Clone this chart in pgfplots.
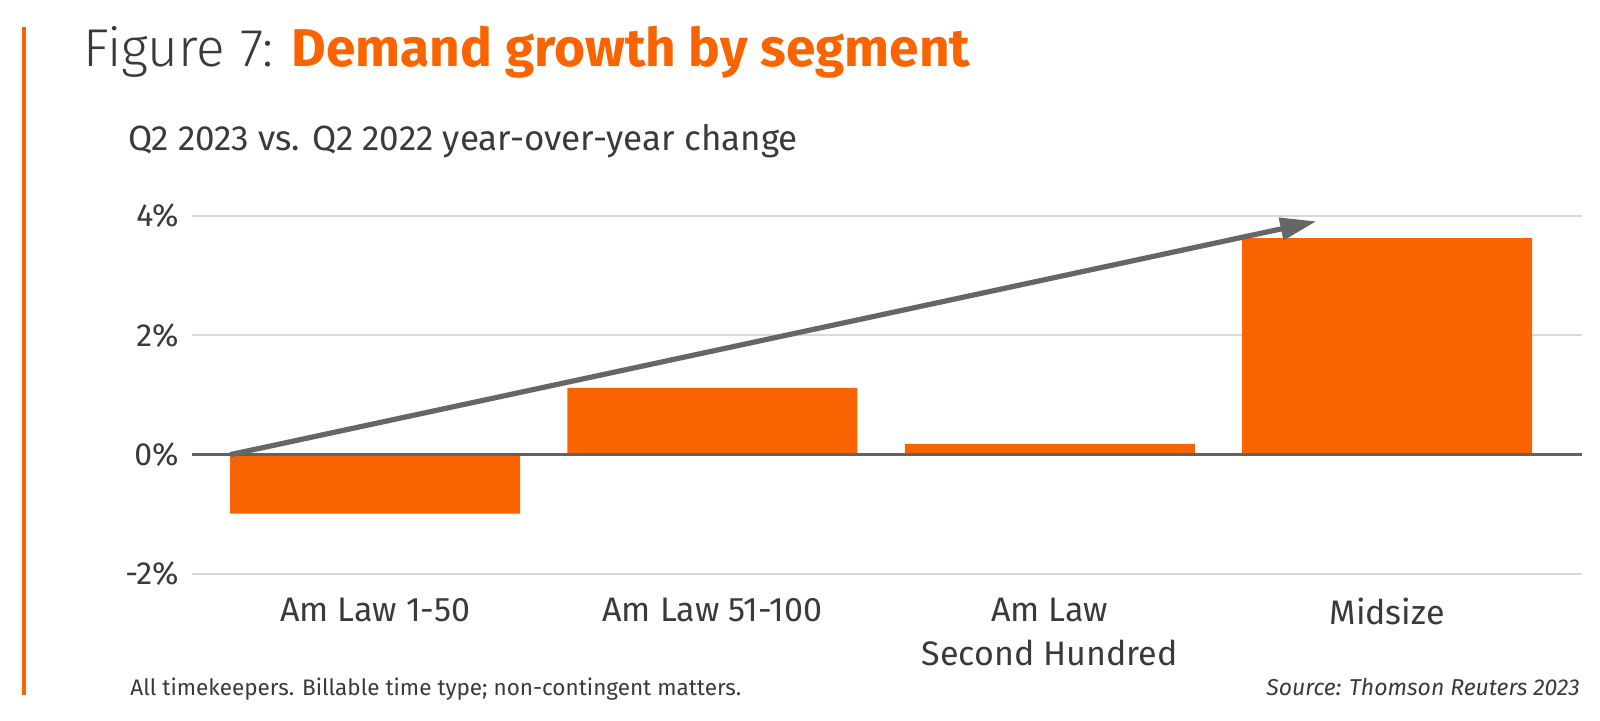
\documentclass[border=0pt]{standalone}
\usepackage{pgfplots}
\pgfplotsset{compat=1.18}
\usepackage{fontspec}
\setmainfont{Fira Sans}
\newfontfamily\lightfont{Fira Sans Light}
\usetikzlibrary{arrows.meta}
\definecolor{trorange}{HTML}{F96400}
\definecolor{txt}{HTML}{3A3A3A}
\definecolor{arr}{HTML}{666666}
\definecolor{zeroc}{HTML}{5F6266}
\definecolor{gridc}{HTML}{D9D9D9}
\begin{document}
\begin{tikzpicture}
\path[use as bounding box] (0pt,0pt) rectangle (800pt,360pt);
\draw[trorange, line width=1.75pt] (12pt,12.5pt) -- (12pt,346.5pt);
\node[anchor=base west, inner sep=0pt, font=\fontsize{26.6}{32}\selectfont, text=txt] at (41.5pt,327pt) {{\lightfont Figure 7:} \textcolor{trorange}{\bfseries Demand growth by segment}};
\node[anchor=base west, inner sep=0pt, font=\fontsize{17.5}{21}\selectfont, text=txt] at (64pt,285pt) {Q2 2023 vs. Q2 2022 year-over-year change};
\node[anchor=base west, inner sep=0pt, font=\fontsize{11.25}{14}\selectfont, text=txt] at (65pt,12.5pt) {All timekeepers. Billable time type; non-contingent matters.};
\node[anchor=base east, inner sep=0pt, font=\fontsize{11.5}{14}\selectfont\itshape, text=txt] at (790pt,12.5pt) {Source: Thomson Reuters 2023};
\begin{axis}[
  at={(96pt,73pt)}, anchor=south west,
  width=695pt, height=179pt, scale only axis,
  xmin=-0.543, xmax=3.578, ymin=-2, ymax=4,
  axis line style={draw=none},
  tick style={draw=none},
  major tick length=0pt,
  ytick={-2,0,2,4},
  yticklabels={-2\%,0\%,2\%,4\%},
  xtick={0,1,2,3},
  xticklabels={Am Law 1-50, Am Law 51-100, {Am Law\\Second Hundred}, Midsize},
  ymajorgrids,
  grid style={gridc, line width=1pt},
  yticklabel style={font=\fontsize{16}{19}\selectfont, text=txt, inner sep=0pt, anchor=east, xshift=-6.5pt},
  xticklabel style={font=\fontsize{17}{21.6}\selectfont, text=txt, align=center, inner sep=0pt, anchor=north, yshift=-12pt},
  clip=false,
]
\addplot[ybar, bar width=145pt, fill=trorange, draw=none] coordinates {(0,-0.99) (1,1.12) (2,0.18) (3,3.63)};
\addplot[zeroc, line width=1.2pt] coordinates {(-0.543,0) (3.578,0)};
\addplot[arr, line width=2.6pt, -{Triangle[length=18pt, width=11pt]}] coordinates {(-0.43,0) (2.79,3.91)};
\end{axis}
\end{tikzpicture}
\end{document}
